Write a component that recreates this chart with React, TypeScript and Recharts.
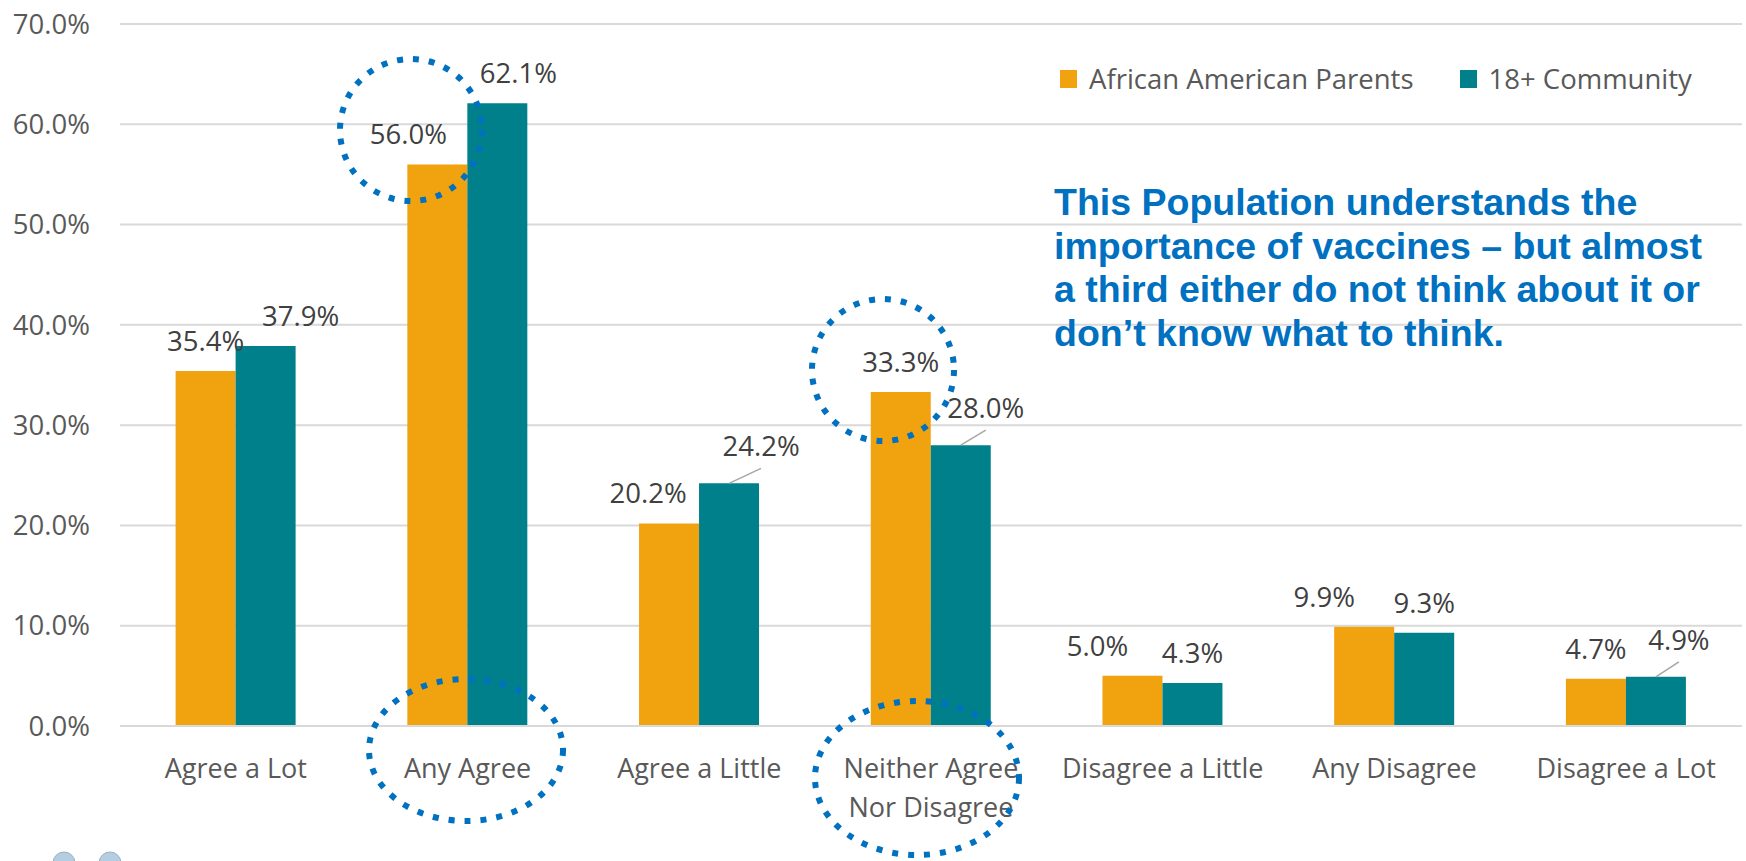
import React from 'react';
import { BarChart, Bar, XAxis, YAxis, CartesianGrid, Legend, LabelList } from 'recharts';

const categories = [
  'Agree a Lot',
  'Any Agree',
  'Agree a Little',
  'Neither Agree\nNor Disagree',
  'Disagree a Little',
  'Any Disagree',
  'Disagree a Lot',
];
const parents = [35.4, 56.0, 20.2, 33.3, 5.0, 9.9, 4.7];
const community = [37.9, 62.1, 24.2, 28.0, 4.3, 9.3, 4.9];
const yTicks = [0, 10, 20, 30, 40, 50, 60, 70];
const seriesNames = ['African American Parents', '18+ Community'];
const callout = [
  'This Population understands the',
  'importance of vaccines \u2013 but almost',
  'a third either do not think about it or',
  'don\u2019t know what to think.',
];

const data = categories.map((name, i) => ({ name, parents: parents[i], community: community[i] }));

// hand-placed label offsets (px) so neighbouring labels don't collide
const parentNudge = [0, -29, -21, 0, -35, -40, 0];
const communityNudge = [35, 21, 32, 25, 0, 0, 23];
const communityLeaders = [2, 3, 6];

const FONT = "'Open Sans', sans-serif";
const ORANGE = '#F0A30F';
const TEAL = '#00808A';
const BLUE = '#0070C0';

const makeLabel = (nudge: number[], leaders: number[] = []) => (props: any) => {
  const { x, y, width, value, index } = props;
  const cx = Number(x) + Number(width) / 2;
  const top = Number(y);
  const dx = nudge[index] ?? 0;
  const leader = leaders.includes(index);
  const baseline = top - (leader ? 27 : 20);
  return (
    <g>
      {leader && (
        <line x1={cx} y1={top} x2={cx + dx} y2={baseline + 12} stroke="#A6A6A6" strokeWidth={1.5} />
      )}
      <text x={cx + dx} y={baseline} textAnchor="middle" fill="#404040" fontSize={27.5} fontFamily={FONT}>
        {Number(value).toFixed(1)}%
      </text>
    </g>
  );
};

const CategoryTick = (props: any) => {
  const { x, y, payload } = props;
  const lines = String(payload.value).split('\n');
  return (
    <text x={x} y={y + 44} textAnchor="middle" fill="#595959" fontSize={27} fontFamily={FONT}>
      {lines.map((line, i) => (
        <tspan key={i} x={x} dy={i === 0 ? 0 : 39}>
          {line}
        </tspan>
      ))}
    </text>
  );
};

const LegendRow = (props: any) => {
  // keep the series order of the chart: parents first, community second
  const items = [...(props.payload || [])].sort(
    (a: any, b: any) => seriesNames.indexOf(a.value) - seriesNames.indexOf(b.value)
  );
  return (
    <div style={{ display: 'flex', alignItems: 'center', fontFamily: FONT, fontSize: 27.5, lineHeight: '36px', color: '#595959', whiteSpace: 'nowrap' }}>
      {items.map((item: any, i: number) => (
        <div key={item.value} style={{ display: 'flex', alignItems: 'center', marginRight: i === 0 ? 46 : 0 }}>
          <span style={{ display: 'inline-block', width: 17, height: 18, background: item.color, marginRight: 12 }} />
          {item.value}
        </div>
      ))}
    </div>
  );
};

export default function App() {
  return (
    <div style={{ position: 'absolute', left: 0, top: 0, width: 1746, height: 861, background: '#fff', overflow: 'hidden' }}>
      <BarChart
        width={1746}
        height={861}
        data={data}
        margin={{ top: 24, right: 4, bottom: 0, left: 0 }}
        barCategoryGap="24%"
        barGap={0}
      >
        <CartesianGrid vertical={false} stroke="#D9D9D9" strokeWidth={2} />
        <XAxis
          dataKey="name"
          height={135}
          interval={0}
          tickLine={false}
          tickMargin={2}
          axisLine={{ stroke: '#D9D9D9', strokeWidth: 2 }}
          tick={<CategoryTick />}
        />
        <YAxis
          width={120}
          domain={[0, 70]}
          ticks={yTicks}
          axisLine={false}
          tickLine={false}
          tickMargin={24}
          tickFormatter={(v: number) => `${v.toFixed(1)}%`}
          tick={{ fill: '#595959', fontSize: 27.5, fontFamily: FONT }}
        />
        <Legend
          layout="vertical"
          align="center"
          verticalAlign="middle"
          content={<LegendRow />}
          wrapperStyle={{ left: 1060, top: 61, width: 'auto' }}
        />
        <Bar dataKey="parents" name={seriesNames[0]} fill={ORANGE} isAnimationActive={false}>
          <LabelList dataKey="parents" content={makeLabel(parentNudge)} />
        </Bar>
        <Bar dataKey="community" name={seriesNames[1]} fill={TEAL} isAnimationActive={false}>
          <LabelList dataKey="community" content={makeLabel(communityNudge, communityLeaders)} />
        </Bar>
      </BarChart>

      <svg width={1746} height={861} style={{ position: 'absolute', left: 0, top: 0, pointerEvents: 'none' }}>
        <text x={1054} y={215} fill={BLUE} fontSize={37.5} fontWeight="bold" fontFamily="'Liberation Sans', Arial, sans-serif">
          {callout.map((line, i) => (
            <tspan key={i} x={1054} dy={i === 0 ? 0 : 43.5}>
              {line}
            </tspan>
          ))}
        </text>
        <g fill="none" stroke={BLUE} strokeWidth={6} strokeDasharray="6 10">
          <ellipse cx={411} cy={130} rx={71} ry={71} />
          <ellipse cx={883} cy={370} rx={71} ry={71} />
          <ellipse cx={466} cy={750} rx={97} ry={71} />
          <ellipse cx={917} cy={778} rx={102} ry={77} />
        </g>
        <g fill="#B3CDE3" stroke="#9FB0C0" strokeWidth={1}>
          <circle cx={64} cy={863} r={11} />
          <circle cx={110} cy={863} r={11} />
        </g>
      </svg>
    </div>
  );
}
